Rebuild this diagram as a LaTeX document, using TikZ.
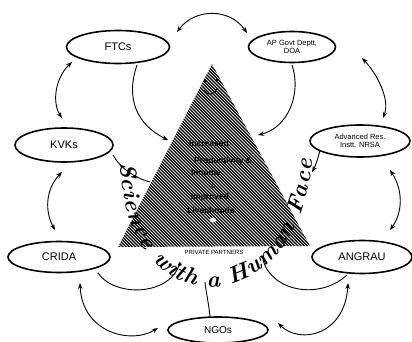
\documentclass[tikz,border=0pt]{standalone}
\usepackage{fontspec}
\setsansfont{Liberation Sans}
\usetikzlibrary{arrows.meta,decorations.text,shapes.geometric}
\begin{document}
\begin{tikzpicture}[x=1pt,y=-1pt,
  org/.style={draw,ellipse,line width=1.6pt,inner sep=0pt,align=center,font=\sffamily},
  tip/.style={-{Stealth[length=6pt,width=4.5pt]}},
  link/.style={line width=0.9pt,{Stealth[length=6pt,width=4.5pt]}-{Stealth[length=6pt,width=4.5pt]}},
  feed/.style={line width=0.9pt},
  inner/.style={font=\sffamily\bfseries\fontsize{8.5}{9}\selectfont,inner sep=0pt}]
\useasboundingbox (0,0) rectangle (412,342);
% pyramid with hatching
\coordinate (apex) at (212,64);
\coordinate (bl) at (118,247);
\coordinate (br) at (310,246);
\begin{scope}
  \clip (apex) -- (bl) -- (br) -- cycle;
  \foreach \i in {-260,-256.8,...,330} \draw[line width=1.25pt] (\i,40) -- ++(230,230);
\end{scope}
% face at apex
\fill (205,81) circle (1.4);
\fill (217,80) circle (1.4);
\draw[line width=1pt] (204,90) .. controls (208,96) and (213,96) .. (217,89);
\fill[white] (213,220) ellipse (3 and 2.5);
% inner texts
\node[inner] (i1) at (209,143) {Increased};
\node[inner] (i2) at (223,161) {Productivity \&};
\node[inner] (i3) at (206,173) {Income};
\node[inner] (i4) at (213,185) {$\downarrow$};
\node[inner] (i5) at (210,197) {Improved};
\node[inner] (i6) at (211,210) {Livelihoods};
\node[font=\sffamily\fontsize{6}{7}\selectfont,inner sep=0pt] (pp) at (214,252) {PRIVATE PARTNERS};
% organisations
\node[org,minimum width=103pt,minimum height=33pt,font=\sffamily\fontsize{11}{12}\selectfont] (ftc) at (118,47) {FTCs};
\node[org,minimum width=87pt,minimum height=31pt,font=\sffamily\fontsize{7.5}{8}\selectfont] (ap) at (292,47) {AP Govt Deptt,\\DOA};
\node[org,minimum width=98pt,minimum height=34pt,font=\sffamily\fontsize{11}{12}\selectfont] (kvk) at (64,145) {KVKs};
\node[org,minimum width=100pt,minimum height=32pt,font=\sffamily\fontsize{7.5}{8}\selectfont] (adv) at (360,141) {Advanced Res.\\Instt. NRSA};
\node[org,minimum width=102pt,minimum height=31pt,font=\sffamily\fontsize{11}{12}\selectfont] (crida) at (59,257) {CRIDA};
\node[org,minimum width=100pt,minimum height=33pt,font=\sffamily\fontsize{11}{12}\selectfont] (ang) at (362,257) {ANGRAU};
\node[org,minimum width=100pt,minimum height=26pt,font=\sffamily\fontsize{10}{11}\selectfont] (ngo) at (218,330) {NGOs};
% links between organisations
\draw[link] ([shift={(59,-15)}]ftc.center) .. controls (195,8) and (230,8) .. ([shift={(-45,-14)}]ap.center);
\draw[link] ([shift={(70,11)}]ap.center) .. controls (378,75) and (390,100) .. ([shift={(23,-23)}]adv.center);
\draw[link] ([shift={(30,29)}]adv.center) .. controls (403,190) and (403,212) .. ([shift={(28,-27)}]ang.center);
\draw[link] ([shift={(-46,15)}]ftc.center) .. controls (55,78) and (52,103) .. ([shift={(-2,-27)}]kvk.center);
\draw[link] ([shift={(-2,27)}]kvk.center) .. controls (45,190) and (45,212) .. ([shift={(-4,-27)}]crida.center);
\draw[link] ([shift={(21,26)}]crida.center) .. controls (82,332) and (130,345) .. ([shift={(-60,-2)}]ngo.center);
\draw[link] ([shift={(-14,26)}]ang.center) .. controls (345,335) and (300,345) .. ([shift={(60,-7)}]ngo.center);
% feeds into the pyramid
\coordinate (t1) at (168,140);
\coordinate (t2) at (258,135);
\coordinate (t3) at (312,172);
\coordinate (t4) at (150,182);
\coordinate (t5) at (180,262);
\coordinate (t6) at (263,260);
\coordinate (t7) at (205,282);
\draw[feed,tip] ([shift={(19,18)}]ftc.center) .. controls (125,100) and (138,125) .. (t1);
\draw[feed,tip] ([shift={(0,18)}]ap.center) .. controls (302,95) and (287,128) .. (t2);
\draw[feed,tip] ([shift={(-40,9)}]adv.center) .. controls (318,158) and (316,165) .. (t3);
\draw[feed] ([shift={(49,10)}]kvk.center) .. controls (120,168) and (135,178) .. (t4);
\draw[feed] ([shift={(39,16)}]crida.center) .. controls (115,298) and (172,296) .. (t5);
\draw[feed] ([shift={(-15,18)}]ang.center) .. controls (320,300) and (272,292) .. (t6);
\draw[feed] ([shift={(-8,-13)}]ngo.center) .. controls (209,305) and (206,292) .. (t7);
% motto along the pyramid
\path[decorate,decoration={text along path,text align={fit to path},
  text={|\fontsize{23}{23}\selectfont\bfseries\itshape|Science with a Human Face}}]
  (121,163) .. controls (124,335) and (302,322) .. (312,160);
\end{tikzpicture}
\end{document}
